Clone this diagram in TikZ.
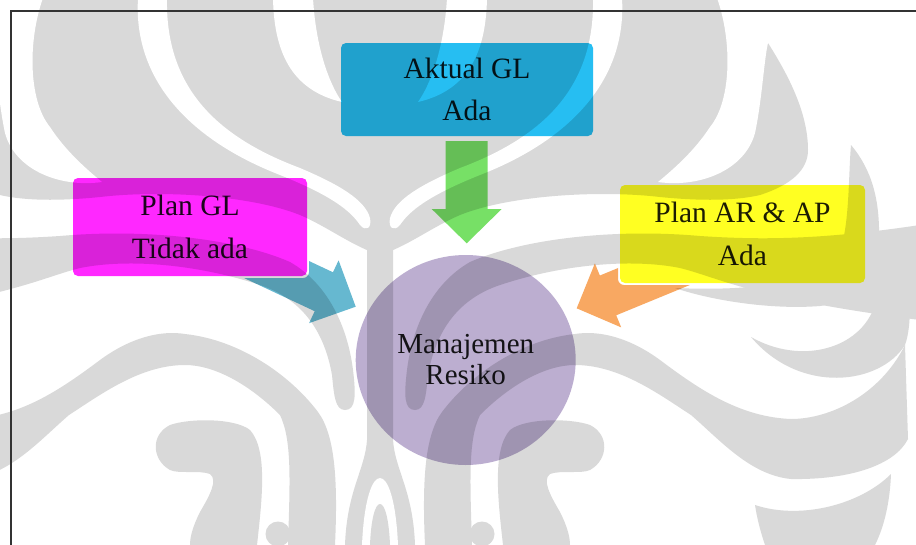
\documentclass[tikz,border=0pt]{standalone}
\usepackage{fontspec}
\setmainfont{Liberation Serif}
\usetikzlibrary{calc,shapes.geometric}

\definecolor{wmgray}{HTML}{D9D9D9}
\definecolor{boxblue}{HTML}{26BEF2}
\definecolor{boxmagenta}{HTML}{FF28FF}
\definecolor{boxyellow}{HTML}{FFFF22}
\definecolor{riskpurple}{HTML}{BCAED0}
\definecolor{arrowgreen}{HTML}{77E066}
\definecolor{arrowblue}{HTML}{66B8D0}
\definecolor{arroworange}{HTML}{F8A862}
\definecolor{inktext}{HTML}{1C1C1C}
\definecolor{framegray}{HTML}{333333}

\tikzset{
  wm/.style={fill=wmgray},
  wmgap/.style={fill=white},
  infobox/.style={rectangle, rounded corners=5pt, inner sep=0pt, align=center,
    text=inktext, font=\fontsize{29.5}{42.5}\selectfont},
  riskcircle/.style={ellipse, inner sep=0pt, fill=riskpurple, align=center,
    text=inktext, minimum width=220pt, minimum height=210pt,
    font=\fontsize{29}{31}\selectfont},
}

% block arrow: style, tail, tip, half shaft width, half head width, head length
\newcommand\drawblockarrow[6]{%
  \path ($(#3)!#6!(#2)$) coordinate (ba-h);
  \fill[#1] ($(#2)!#4!90:(#3)$) -- ($(ba-h)!#4!-90:(#2)$) -- ($(ba-h)!#5!-90:(#2)$)
    -- (#3) -- ($(ba-h)!#5!90:(#2)$) -- ($(ba-h)!#4!90:(#2)$)
    -- ($(#2)!#4!-90:(#3)$) -- cycle;
}

\begin{document}
\begin{tikzpicture}[x=1pt,y=-1pt]
\useasboundingbox (0,0) rectangle (916,544);
\fill[white] (0,0) rectangle (916,544);

% ---------- background emblem (symmetric about x = 380) ----------
\foreach \m in {1,-1}{
  \begin{scope}[xshift=380pt, xscale=\m, xshift=-380pt]
    % upper mass
    \fill[wm] (381,-2) -- (-8,-2) -- (-8,43) .. controls (-25,70) and (-48,110) .. (-48,150)
      .. controls (-48,170) and (-31,185) .. (0,195) .. controls (30,202) and (70,200) .. (100,197)
      .. controls (160,190) and (250,195) .. (300,215) .. controls (330,228) and (355,248) .. (381,255) -- cycle;
    % sweeping band under the upper mass
    \fill[wm] (-160,225) .. controls (-60,240) and (0,240) .. (60,236)
      .. controls (150,228) and (240,240) .. (290,262) .. controls (330,285) and (348,330) .. (353,370)
      .. controls (356,395) and (356,410) .. (345,410) .. controls (335,410) and (334,395) .. (332,375)
      .. controls (325,335) and (305,300) .. (260,285) .. controls (200,265) and (130,258) .. (80,268)
      .. controls (40,278) and (10,298) .. (-160,320) -- cycle;
    % arch and column
    \fill[wm] (-145,345) .. controls (-120,395) and (-70,419) .. (-31,419)
      .. controls (20,417) and (60,390) .. (100,360) .. controls (130,338) and (160,330) .. (185,334)
      .. controls (240,340) and (290,375) .. (318,412) .. controls (335,435) and (338,480) .. (335,545)
      -- (288,545) .. controls (290,480) and (292,440) .. (280,415)
      .. controls (250,385) and (215,365) .. (185,365) .. controls (140,365) and (100,395) .. (69,415)
      .. controls (40,440) and (10,475) .. (-31,479) .. controls (-90,480) and (-135,465) .. (-148,439) -- cycle;
    % hook
    \fill[wm] (257,545) .. controls (262,500) and (268,450) .. (250,430) .. controls (235,418) and (190,418) .. (170,425)
      .. controls (150,435) and (152,460) .. (170,470) .. controls (178,474) and (200,470) .. (210,474)
      .. controls (218,480) and (210,495) .. (200,512) .. controls (192,528) and (190,538) .. (190,545) -- cycle;
    % small bead
    \fill[wm] (278,534) circle[radius=12.5];
  \end{scope}
}
\foreach \m in {1,-1}{
  \begin{scope}[xshift=380pt, xscale=\m, xshift=-380pt]
    % outer gap
    \fill[wmgap] (138,-2) .. controls (133,80) and (190,140) .. (280,175)
      .. controls (330,195) and (350,210) .. (360,225) .. controls (366,232) and (372,228) .. (370,218)
      .. controls (365,200) and (340,185) .. (300,168) .. controls (220,138) and (165,90) .. (167,-2) -- cycle;
    % inner tongue
    \fill[wmgap] (273,-2) .. controls (274,50) and (290,90) .. (342,102)
      .. controls (330,85) and (316,50) .. (313,-2) -- cycle;
    % gap beside the flame
    \fill[wmgap] (43,-2) .. controls (28,40) and (28,100) .. (50,127)
      .. controls (65,150) and (85,168) .. (102,182) .. controls (60,188) and (15,170) .. (5,133)
      .. controls (-2,100) and (-4,60) .. (-8,43) -- (-170,43) -- (-170,-2) -- cycle;
  \end{scope}
}
% central stem with fork and dome
\fill[wm] (367,235) -- (393,235) -- (393,440) .. controls (395,470) and (413,490) .. (415,545)
  -- (345,545) .. controls (347,490) and (365,470) .. (367,440) -- cycle;
\fill[wmgap] (362,545) .. controls (364,500) and (372,478) .. (380,478)
  .. controls (388,478) and (396,500) .. (398,545) -- cycle;
\fill[wm] (370,545) .. controls (371,520) and (375,504) .. (380,504)
  .. controls (385,504) and (389,520) .. (390,545) -- cycle;
% outer petals on the right
\fill[wm] (851,145) .. controls (872,170) and (880,200) .. (879,240)
  .. controls (878,275) and (860,300) .. (820,306) .. controls (770,310) and (710,300) .. (675,288)
  .. controls (720,290) and (800,290) .. (835,260) .. controls (850,240) and (848,180) .. (851,145) -- cycle;
\fill[wm] (900,253) .. controls (912,290) and (912,325) .. (905,345)
  .. controls (880,385) and (800,395) .. (751,337) .. controls (800,365) and (860,350) .. (875,305)
  .. controls (882,285) and (890,265) .. (900,253) -- cycle;
\fill[wm] (755,505) .. controls (800,520) and (860,505) .. (891,474)
  .. controls (890,500) and (885,525) .. (875,545) -- (765,545)
  .. controls (760,530) and (757,518) .. (755,505) -- cycle;

% ---------- diagram ----------
\coordinate (aktual-c) at (467,89.5);
\coordinate (plangl-c) at (190,227);
\coordinate (planar-c) at (742.5,234);
\coordinate (risk-c) at (465.7,360);

\coordinate (green-tail) at (466.7,141);
\coordinate (green-tip) at (466.7,243.3);
\coordinate (blue-tail) at (242.4,253.5);
\coordinate (blue-tip) at (355.7,306.7);
\coordinate (orange-tail) at (697,258.8);
\coordinate (orange-tip) at (576.7,308.3);

\begin{scope}[blend mode=multiply]
  % arrows pass under the side boxes, leaving a thin white rim round them
  \begin{scope}[even odd rule]
    \clip (-5,-5) rectangle (921,549)
      [rounded corners=6pt] (71,176) rectangle (309,278)
      (618,183) rectangle (867,285);
    \drawblockarrow{arrowgreen}{green-tail}{green-tip}{21pt}{35pt}{34.3pt}
    \drawblockarrow{arrowblue}{blue-tail}{blue-tip}{21.5pt}{34.7pt}{35.2pt}
    \drawblockarrow{arroworange}{orange-tail}{orange-tip}{21.5pt}{34.6pt}{33.9pt}
  \end{scope}

  \node[infobox, fill=boxblue, minimum width=252pt, minimum height=93pt]
    (aktual) at (aktual-c) {Aktual GL\\Ada};
  \node[infobox, fill=boxmagenta, minimum width=234pt, minimum height=98pt]
    (plangl) at (plangl-c) {Plan GL\\Tidak ada};
  \node[infobox, fill=boxyellow, minimum width=245pt, minimum height=98pt]
    (planar) at (planar-c) {Plan AR \& AP\\Ada};
  \node[riskcircle] (risk) at (risk-c) {Manajemen\\Resiko};
\end{scope}

% page frame
\draw[framegray, line width=1.2pt] (11,545) -- (11,11) -- (917,11);
\end{tikzpicture}
\end{document}
